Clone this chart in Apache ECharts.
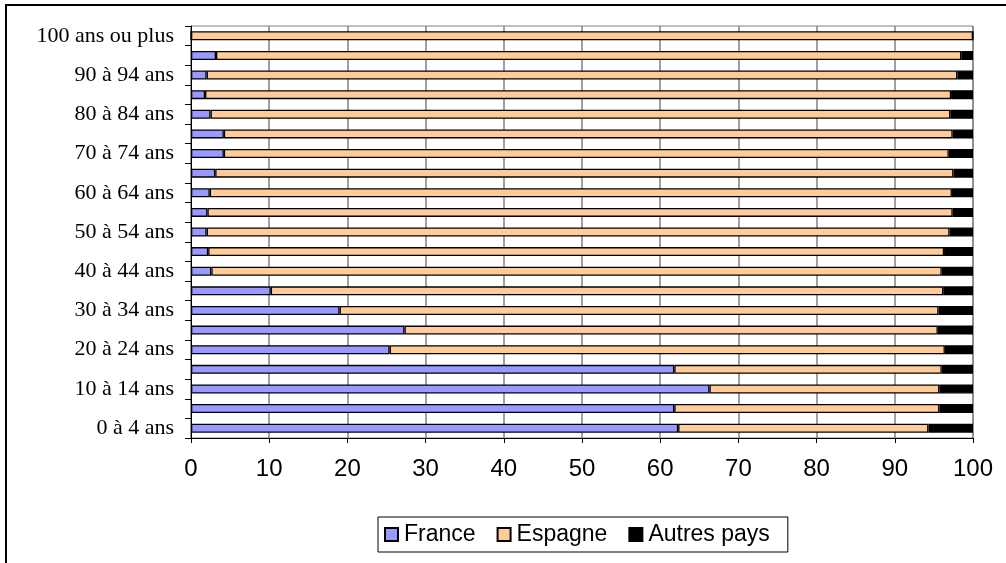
<!DOCTYPE html>
<html>
<head>
<meta charset="utf-8">
<script src="https://cdn.jsdelivr.net/npm/echarts@6/dist/echarts.min.js"></script>
<style>
html,body{margin:0;padding:0;background:#fff;}
#frame{position:absolute;left:5px;top:4px;width:1200px;height:800px;border-left:2px solid #000;border-top:2px solid #000;}
#chart{position:absolute;left:0;top:0;width:1006px;height:563px;}
</style>
</head>
<body>
<div id="frame"></div>
<div id="chart"></div>
<script>
const categories = ['0 à 4 ans','5 à 9 ans','10 à 14 ans','15 à 19 ans','20 à 24 ans','25 à 29 ans','30 à 34 ans','35 à 39 ans','40 à 44 ans','45 à 49 ans','50 à 54 ans','55 à 59 ans','60 à 64 ans','65 à 69 ans','70 à 74 ans','75 à 79 ans','80 à 84 ans','85 à 89 ans','90 à 94 ans','95 à 99 ans','100 ans ou plus'];
const france  = [62.3, 61.8, 66.3, 61.8, 25.4, 27.3, 19.0, 10.2, 2.6, 2.2, 2.0, 2.1, 2.4, 3.1, 4.2, 4.2, 2.5, 1.8, 2.0, 3.2, 0];
const espagne = [32.0, 33.9, 29.4, 34.2, 71.0, 68.2, 76.6, 86.0, 93.4, 94.1, 95.0, 95.3, 94.9, 94.4, 92.7, 93.2, 94.6, 95.4, 96.0, 95.3, 100];
const autres  = [5.7, 4.3, 4.3, 4.0, 3.6, 4.5, 4.4, 3.8, 4.0, 3.7, 3.0, 2.6, 2.7, 2.5, 3.1, 2.6, 2.9, 2.8, 2.0, 1.5, 0];
const xTicks = [0,10,20,30,40,50,60,70,80,90,100];

const chart = echarts.init(document.getElementById('chart'), null, {renderer:'canvas'});
const barStyle = (c) => ({color:c, borderColor:'#000', borderWidth:1.3});
chart.setOption({
  animation:false,
  backgroundColor:'transparent',
  grid:{left:191, right:33, top:26, bottom:125, show:true, borderColor:'#808080', borderWidth:1, backgroundColor:'transparent'},
  legend:{
    data:['France','Espagne','Autres pays'],
    left:378, top:517, orient:'horizontal',
    padding:[6,18,6,6], itemGap:21,
    borderColor:'#000', borderWidth:1, backgroundColor:'#fff',
    icon:'rect', itemWidth:13, itemHeight:13,
    textStyle:{fontFamily:'Liberation Sans', fontSize:23, color:'#000', padding:[0,0,0,1]}
  },
  xAxis:{
    type:'value', min:0, max:100, interval:10,
    axisLine:{show:true, lineStyle:{color:'#000', width:1}},
    axisTick:{show:true, length:5, lineStyle:{color:'#000'}},
    axisLabel:{fontFamily:'Liberation Sans', fontSize:24, color:'#000', margin:19,
      formatter:(v)=> xTicks.includes(v) ? String(v) : ''},
    splitLine:{show:true, lineStyle:{color:'#808080', width:1.5}}
  },
  yAxis:{
    type:'category', data:categories,
    axisLine:{show:true, lineStyle:{color:'#000', width:1}},
    axisTick:{show:true, length:6, interval:0, lineStyle:{color:'#000'}},
    axisLabel:{interval:1, fontFamily:'Liberation Serif', fontSize:22, color:'#000', margin:17},
    splitLine:{show:false}
  },
  series:[
    {name:'France', type:'bar', stack:'t', barWidth:9, data:france, itemStyle:barStyle('#9999FF')},
    {name:'Espagne', type:'bar', stack:'t', barWidth:9, data:espagne, itemStyle:barStyle('#FFCC99')},
    {name:'Autres pays', type:'bar', stack:'t', barWidth:9, data:autres, itemStyle:barStyle('#000000')}
  ]
});
</script>
</body>
</html>
